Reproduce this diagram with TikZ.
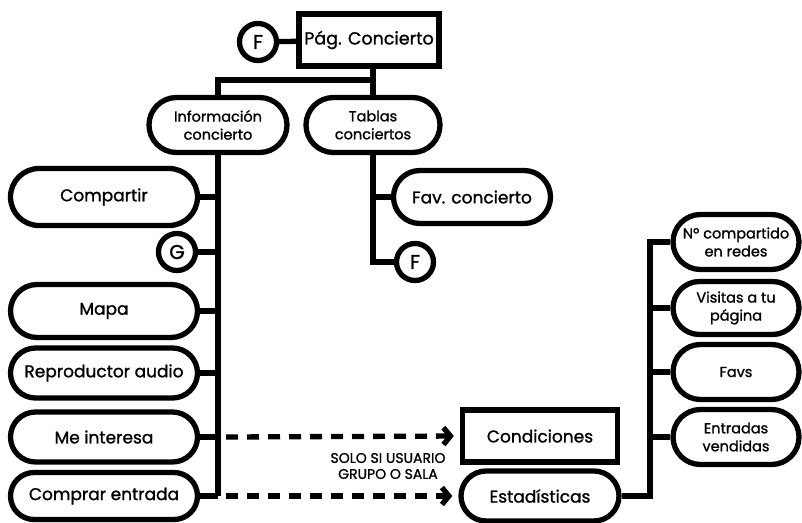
\documentclass[tikz,border=0pt]{standalone}
\usepackage{fontspec}
\setmainfont{Poppins}[FakeBold=1.2]
\usetikzlibrary{shapes.misc,arrows.meta}
\begin{document}
\begin{tikzpicture}[x=1pt,y=-1pt,
  line width=5.3pt,
  every node/.style={inner sep=1pt, align=center},
  pill/.style n args={2}{draw, rounded rectangle, minimum width=#1, minimum height=#2},
  boxnode/.style n args={2}{draw, rectangle, minimum width=#1, minimum height=#2},
  ref/.style={draw, circle, minimum size=37pt, inner sep=0pt, font=\fontsize{20}{20}\selectfont},
  big/.style={font=\fontsize{17}{19}\selectfont},
  mid/.style={font=\fontsize{14.5}{18}\selectfont},
  small/.style={font=\fontsize{14}{16}\selectfont},
  opt/.style={dash pattern=on 12pt off 9pt, -{Straight Barb[length=7pt,width=17pt]}, shorten >=6pt}
]
\useasboundingbox (0,0) rectangle (802,522);

% top level
\node[boxnode={140pt}{52pt}, font=\fontsize{17.5}{20}\selectfont] (pag) at (369,40) {Pág. Concierto};
\node[ref] (fA) at (258,42) {F};

% second level
\node[pill={140pt}{55pt}, mid] (info) at (218,125) {Información\\concierto};
\node[pill={136pt}{55pt}, mid] (tablas) at (373,125) {Tablas\\conciertos};

% concert info items
\node[pill={189pt}{57pt}, big] (compartir) at (104,197) {Compartir};
\node[ref] (g) at (177,252) {G};
\node[pill={189pt}{53pt}, big] (mapa) at (104,311) {Mapa};
\node[pill={189pt}{50pt}, big] (repro) at (104,373) {Reproductor audio};
\node[pill={189pt}{50pt}, big] (meint) at (104,437) {Me interesa};
\node[pill={189pt}{47pt}, big] (comprar) at (104,496) {Comprar entrada};

% tables branch
\node[pill={159pt}{53pt}, big] (fav) at (472,197) {Fav. concierto};
\node[ref] (fB) at (415,262) {F};

% restricted targets
\node[boxnode={155pt}{52pt}, big] (cond) at (540,436) {Condiciones};
\node[pill={160pt}{50pt}, big] (estad) at (540,496) {Estadísticas};
\node[small] (solo) at (388,466) {SOLO SI USUARIO\\GRUPO O SALA};

% statistics
\node[pill={128pt}{55pt}, mid] (n1) at (736,242) {Nº compartido\\en redes};
\node[pill={128pt}{53pt}, mid] (n2) at (736,308) {Visitas a tu\\página};
\node[pill={128pt}{55pt}, mid] (n3) at (736,372) {Favs};
\node[pill={128pt}{55pt}, mid] (n4) at (736,437) {Entradas\\vendidas};

\coordinate (bar) at (0,80);
\coordinate (rt) at (650,0);

% connectors
\draw (fA) -- (pag);
\draw (tablas.north |- pag.south) -- (tablas.north |- bar);
\draw (info.north) -- (info.north |- bar) -- (tablas.north |- bar) -- (tablas.north);

\draw (info.south) -- (info.south |- comprar.east);
\foreach \n in {compartir,g,mapa,repro,meint,comprar}
  \draw (\n.east) -- (\n.east -| info.south);

\draw (tablas.south) -- (tablas.south |- fB.west) -- (fB.west);
\draw (fav.west) -- (fav.west -| tablas.south);

\draw[opt] ([xshift=8pt]meint.east -| info.south) -- (cond.west);
\draw[opt] ([xshift=8pt]comprar.east -| info.south) -- (estad.west);

\draw (estad.east) -| (rt |- n1.west) -- (n1.west);
\foreach \n in {n2,n3,n4}
  \draw (\n.west) -- (\n.west -| rt);
\end{tikzpicture}
\end{document}
